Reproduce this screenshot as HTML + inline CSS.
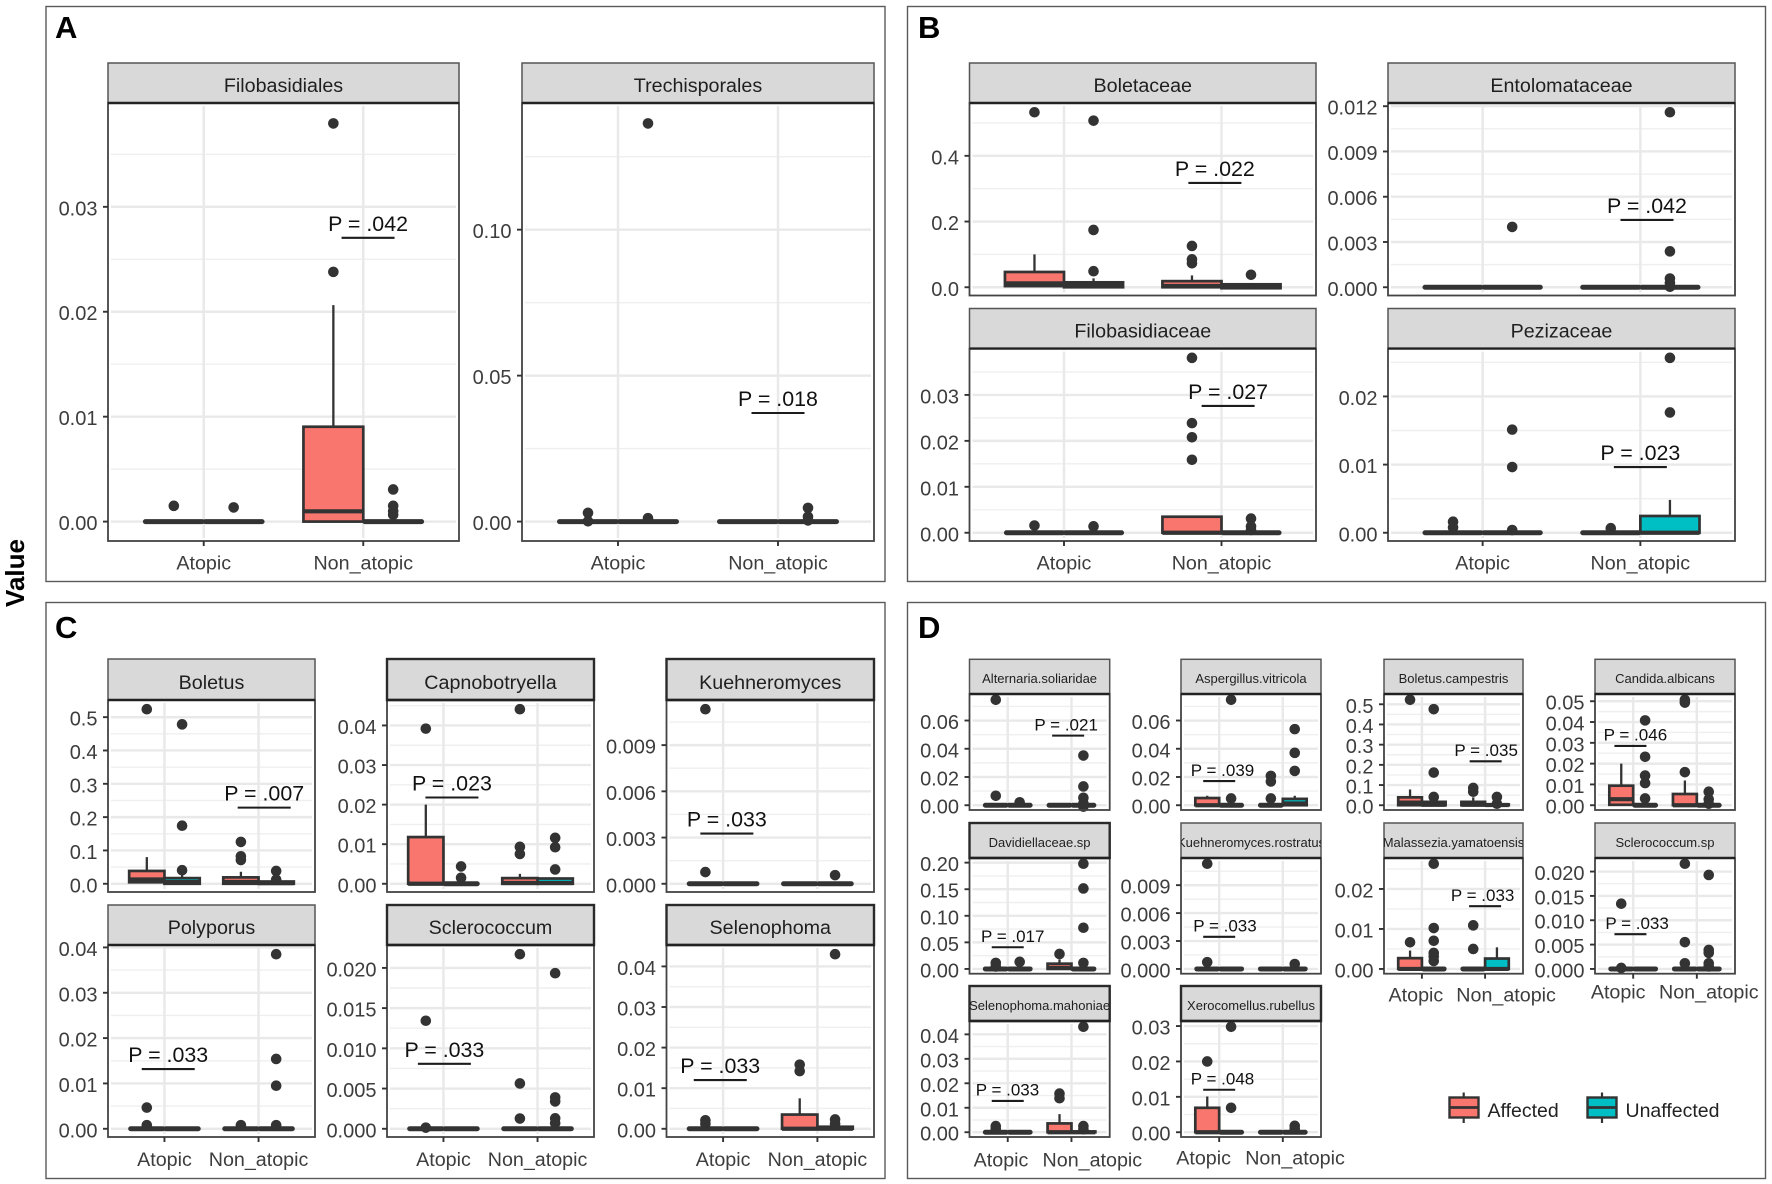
<!DOCTYPE html>
<html lang="en">
<head>
<meta charset="utf-8">
<title>Fungal taxa abundance by atopic status</title>
<style>
html,body{margin:0;padding:0;background:#fff;}
svg{display:block;font-family:"Liberation Sans",Arial,sans-serif;}
</style>
</head>
<body>
<svg id="chart" xmlns="http://www.w3.org/2000/svg" width="1772" height="1184" viewBox="0 0 1772 1184">
  <rect x="0" y="0" width="1772" height="1184" fill="#ffffff"/>
  <rect x="46" y="6.5" width="839" height="575" fill="none" stroke="#5a5a5a" stroke-width="1.4"/>
  <rect x="907.5" y="6.5" width="858" height="575" fill="none" stroke="#5a5a5a" stroke-width="1.4"/>
  <rect x="46" y="602.5" width="839" height="576" fill="none" stroke="#5a5a5a" stroke-width="1.4"/>
  <rect x="907.5" y="602.5" width="858" height="576" fill="none" stroke="#5a5a5a" stroke-width="1.4"/>
  <text x="55" y="38" font-size="31" font-weight="700" fill="#000">A</text>
  <text x="918" y="38" font-size="31" font-weight="700" fill="#000">B</text>
  <text x="55" y="638" font-size="31" font-weight="700" fill="#000">C</text>
  <text x="918" y="638" font-size="31" font-weight="700" fill="#000">D</text>
  <text transform="translate(24,573) rotate(-90)" text-anchor="middle" font-size="26" font-weight="700" fill="#000">Value</text>
  <g id="facets"></g>
  <g>
    <g>
      <line x1="1463.7" x2="1463.7" y1="1092.5" y2="1123" stroke="#333" stroke-width="2.2"/>
      <rect x="1449.5" y="1097.5" width="29" height="20" fill="#F8766D" stroke="#333" stroke-width="2.4"/>
      <line x1="1449.5" x2="1478.5" y1="1107.5" y2="1107.5" stroke="#333" stroke-width="2.8"/>
      <text x="1487.5" y="1117" font-size="19.5" fill="#222">Affected</text>
    </g>
    <g>
      <line x1="1602" x2="1602" y1="1092.5" y2="1123" stroke="#333" stroke-width="2.2"/>
      <rect x="1587.5" y="1097.5" width="29" height="20" fill="#00BFC4" stroke="#333" stroke-width="2.4"/>
      <line x1="1587.5" x2="1616.5" y1="1107.5" y2="1107.5" stroke="#333" stroke-width="2.8"/>
      <text x="1625.5" y="1117" font-size="19.5" fill="#222">Unaffected</text>
    </g>
  </g>
</svg>
<script>
/* ---------- chart data ---------- */
const categories = ["Atopic", "Non_atopic"];
const groups = ["Affected", "Unaffected"];
const groupColors = ["#F8766D", "#00BFC4"];

const facetNames = [
  "Filobasidiales", "Trechisporales",
  "Boletaceae", "Entolomataceae", "Filobasidiaceae", "Pezizaceae",
  "Boletus", "Capnobotryella", "Kuehneromyces", "Polyporus", "Sclerococcum", "Selenophoma",
  "Alternaria.soliaridae", "Aspergillus.vitricola", "Boletus.campestris", "Candida.albicans",
  "Davidiellaceae.sp", "Kuehneromyces.rostratus", "Malassezia.yamatoensis", "Sclerococcum.sp",
  "Selenophoma.mahoniae", "Xerocomellus.rubellus"
];

const yTickLabels = [
  ["0.00","0.01","0.02","0.03"], ["0.00","0.05","0.10"],
  ["0.0","0.2","0.4"], ["0.000","0.003","0.006","0.009","0.012"],
  ["0.00","0.01","0.02","0.03"], ["0.00","0.01","0.02"],
  ["0.0","0.1","0.2","0.3","0.4","0.5"], ["0.00","0.01","0.02","0.03","0.04"],
  ["0.000","0.003","0.006","0.009"], ["0.00","0.01","0.02","0.03","0.04"],
  ["0.000","0.005","0.010","0.015","0.020"], ["0.00","0.01","0.02","0.03","0.04"],
  ["0.00","0.02","0.04","0.06"], ["0.00","0.02","0.04","0.06"],
  ["0.0","0.1","0.2","0.3","0.4","0.5"], ["0.00","0.01","0.02","0.03","0.04","0.05"],
  ["0.00","0.05","0.10","0.15","0.20"], ["0.000","0.003","0.006","0.009"],
  ["0.00","0.01","0.02"], ["0.000","0.005","0.010","0.015","0.020"],
  ["0.00","0.01","0.02","0.03","0.04"], ["0.00","0.01","0.02","0.03"]
];

/* per facet, four boxes (Atopic-Affected, Atopic-Unaffected, Non-Affected, Non-Unaffected):
   [q1, median, q3, upper whisker] */
const boxStats = [
  [[0,0,0,0],[0,0,0,0],[0,0.00098,0.00904,0.02063],[0,0,0,0]],
  [[0,0,0,0],[0,0,0,0],[0,0,0,0],[0,0,0,0]],
  [[0.0035,0.012,0.0465,0.1],[0,0.007,0.015,0.027],[0,0.004,0.0186,0.036],[-0.003,0.002,0.009,0.013]],
  [[0,0,0,0],[0,0,0,0],[0,0,0,0],[0,0,0,0]],
  [[0,0,0,0],[0,0,0,0],[0,0,0.00349,0.00349],[0,0,0,0]],
  [[0,0,0,0],[0,0,0,0],[0,0,0,0],[0,0,0.00246,0.00482]],
  [[0.0045,0.013,0.0385,0.08],[0,0.005,0.017,0.029],[0,0.0055,0.0192,0.036],[0,0.002,0.0068,0.0068]],
  [[0,0,0.0118,0.02],[0,0,0,0],[0,0.0002,0.00143,0.0025],[0,0.0002,0.00133,0.00133]],
  [[0,0,0,0],[0,0,0,0],[0,0,0,0],[0,0,0,0]],
  [[0,0,0,0],[0,0,0,0],[0,0,0,0],[0,0,0,0]],
  [[0,0,0,0],[0,0,0,0],[0,0,0,0],[0,0,0,0]],
  [[0,0,0,0],[0,0,0,0],[0,0,0.0035,0.0075],[0,0,0.0005,0.0005]],
  [[0,0,0,0],[0,0,0,0],[0,0,0,0],[0,0,0,0]],
  [[0,0,0.0051,0.0067],[0,0,0,0],[0,0,0,0],[0,0.0012,0.0045,0.0067]],
  [[0,0.013,0.039,0.078],[0,0.002,0.0167,0.039],[0,0.002,0.0167,0.039],[0,0.001,0.004,0.004]],
  [[0.0002,0.0029,0.0094,0.02],[0,0,0,0],[0,0,0.0054,0.0119],[0,0,0,0]],
  [[0,0,0,0],[0,0,0,0],[0,0.002,0.0099,0.018],[0,0,0,0]],
  [[0,0,0,0],[0,0,0,0],[0,0,0,0],[0,0,0,0]],
  [[0,0,0.0027,0.0046],[0,0,0,0],[0,0,0,0],[0,0,0.0026,0.0054]],
  [[0,0,0,0],[0,0,0,0],[0,0,0,0],[0,0,0,0]],
  [[0,0,0,0],[0,0,0,0],[0,0,0.0036,0.0074],[0,0,0.0003,0.0003]],
  [[0,0,0.0069,0.0101],[0,0,0,0],[0,0,0,0],[0,0,0,0]]
];

/* per facet, outlier values for the same four boxes */
const outliers = [
  [[0.0015],[0.00135],[0.03795,0.0238],[0.00306,0.0015,0.001,0.00065]],
  [[0.003,0.0001],[0.1364,0.00118],[],[0.0047,0.0017,0.0004]],
  [[0.5326],[0.507,0.1744,0.0488],[0.1256,0.085,0.073],[0.038]],
  [[],[0.004],[],[0.0116,0.00238,0.00058,0.00028,0.00003]],
  [[0.00158],[0.0014],[0.03807,0.02386,0.02078,0.01588],[0.00308,0.0014,0.0006]],
  [[0.00162,0.00078],[0.01513,0.00964,0.0004],[0.00067],[0.02566,0.01765]],
  [[0.5238],[0.4785,0.1742,0.0407],[0.1256,0.0826,0.0713],[0.0385,0.0124]],
  [[0.0392],[0.00438,0.00152],[0.0441,0.00933,0.00752],[0.0116,0.00924,0.00362]],
  [[0.01133,0.00076],[],[],[0.00056]],
  [[0.00467,0.0008],[],[0.0008],[0.0385,0.0154,0.0095,0.0008]],
  [[0.01343,0.00014],[],[0.0217,0.00563,0.00127],[0.01934,0.0039,0.0034,0.0013,0.0007]],
  [[0.0021,0.0012],[],[0.0158,0.0142],[0.043,0.0023,0.0012]],
  [[0.0747,0.0067],[0.0021],[],[0.0352,0.0133,0.0053,0.0013,-0.001]],
  [[],[0.0747,0.0048],[0.0208,0.0168,0.0048],[0.0539,0.0371,0.0243]],
  [[0.5223],[0.4758,0.1617,0.0409],[0.0855,0.0669],[0.0409,0.0074]],
  [[],[0.0408,0.0233,0.01426,0.01065,0.00325],[0.0507,0.0493,0.0159],[0.0065,0.0029,0.0007]],
  [[0.0113,0.0045],[0.0134],[0.0282],[0.1979,0.1514,0.0775,0.0113]],
  [[0.0113,0.00073],[],[],[0.00053]],
  [[0.00667],[0.0263,0.01023,0.00704,0.004,0.0031,0.002],[0.0109,0.005],[]],
  [[0.0134,0.0002],[],[0.0216,0.0055,0.00116],[0.0193,0.0039,0.0033,0.00116,0.0005]],
  [[0.0025,0.0014],[],[0.0158,0.0139],[0.0431,0.0025,0.0012]],
  [[0.02],[0.0298,0.0069],[],[0.0018,0.001]]
];

const pLabels = [
  "P = .042","P = .018","P = .022","P = .042","P = .027","P = .023",
  "P = .007","P = .023","P = .033","P = .033","P = .033","P = .033",
  "P = .021","P = .039","P = .035","P = .046","P = .017","P = .033","P = .033","P = .033","P = .033","P = .048"
];
/* bracket centre, in category units (1 = Atopic, 2 = Non_atopic) */
const bracketCat = [
  2.03,2.0,1.958,2.042,2.042,2.0,
  2.06,1.09,1.04,1.04,1.01,0.97,
  1.948,1.0,2.009,0.957,1.0,1.0,2.0,0.957,1.0,1.0
];
/* label centre, in category units */
const pLabelCat = [
  2.03,2.0,1.958,2.042,2.042,2.0,
  2.06,1.09,1.04,1.04,1.01,0.97,
  1.917,1.052,2.017,1.035,1.078,1.091,1.961,1.061,0.996,1.052
];
/* bracket height, in axis units */
const bracketValue = [
  0.02705,0.0372,0.3174,0.00446,0.0276,0.00964,
  0.2285,0.0218,0.00326,0.01317,0.00808,0.012,
  0.0493,0.0171,0.2175,0.0285,0.0408,0.00345,0.0157,0.00713,0.0128,0.012
];

/* ---------- layout (page geometry, not data) ---------- */
function frameFor(i) {
  const big = {strip: 19.7, p: 21.4, half: 26.5, gap: 7};
  const small = {strip: 13, p: 17, half: 16, gap: 5.3};
  function f(x0, x1, top, mid, bot, axis, style, shift, base, heavy) {
    return {x0, x1, top, mid, bot, axis, style, shift: shift || [0, 0], base: base || 28.5, heavy: !!heavy};
  }
  const cC = [[108,315],[387,594],[666.5,874]];
  const cD = [[969.5,1109.7],[1181,1321],[1384,1523],[1595,1735]];
  const rC = [[659,700,892],[905,945,1137]];
  const rD = [[659.3,694,810],[823,858,973.7],[986,1021,1137]];
  const frames = [
    f(108,459,63,103,541,true,big),
    f(522,874,63,103,541,true,big),
    f(969.5,1316,63,103,295.5,false,big),
    f(1388,1735,63,103,295.5,false,big),
    f(969.5,1316,308.5,348.6,541,true,big),
    f(1388,1735,308.5,348.6,541,true,big),
    f(cC[0][0],cC[0][1],rC[0][0],rC[0][1],rC[0][2],false,big),
    f(cC[1][0],cC[1][1],rC[0][0],rC[0][1],rC[0][2],false,big,null,null,true),
    f(cC[2][0],cC[2][1],rC[0][0],rC[0][1],rC[0][2],false,big,null,null,true),
    f(cC[0][0],cC[0][1],rC[1][0],rC[1][1],rC[1][2],true,big,null,28.8),
    f(cC[1][0],cC[1][1],rC[1][0],rC[1][1],rC[1][2],true,big,null,28.8,true),
    f(cC[2][0],cC[2][1],rC[1][0],rC[1][1],rC[1][2],true,big,null,28.8,true),
    f(cD[0][0],cD[0][1],rD[0][0],rD[0][1],rD[0][2],false,small),
    f(cD[1][0],cD[1][1],rD[0][0],rD[0][1],rD[0][2],false,small),
    f(cD[2][0],cD[2][1],rD[0][0],rD[0][1],rD[0][2],false,small),
    f(cD[3][0],cD[3][1],rD[0][0],rD[0][1],rD[0][2],false,small),
    f(cD[0][0],cD[0][1],rD[1][0],rD[1][1],rD[1][2],false,small,null,null,true),
    f(cD[1][0],cD[1][1],rD[1][0],rD[1][1],rD[1][2],false,small),
    f(cD[2][0],cD[2][1],rD[1][0],rD[1][1],rD[1][2],true,small,[-6,21],28),
    f(cD[3][0],cD[3][1],rD[1][0],rD[1][1],rD[1][2],true,small,[-15,12],25),
    f(cD[0][0],cD[0][1],rD[2][0],rD[2][1],rD[2][2],true,small,[-6.7,20.9],29.5,true),
    f(cD[1][0],cD[1][1],rD[2][0],rD[2][1],rD[2][2],true,small,[-15.6,12.2],27.6,true)
  ];
  return frames[i];
}

/* ---------- drawing ---------- */
const NS = "http://www.w3.org/2000/svg";
const DARK = "#333333";
function mk(parent, tag, attrs, text) {
  const el = document.createElementNS(NS, tag);
  for (const k in attrs) el.setAttribute(k, attrs[k]);
  if (text !== undefined) el.textContent = text;
  parent.appendChild(el);
  return el;
}
function slug(s) {
  return s.toLowerCase().replace(/[^a-z0-9]+/g, "-");
}

const root = document.getElementById("facets");

facetNames.forEach(function (name, i) {
  const fr = frameFor(i);
  const stats = boxStats[i];
  const outs = outliers[i];
  const ticks = yTickLabels[i];
  const id = slug(name);

  /* axis functions: ggplot-style expansion */
  const all = [];
  stats.forEach(function (b) { all.push(b[0], b[1], b[2], b[3]); });
  outs.forEach(function (o) { o.forEach(function (v) { all.push(v); }); });
  const lo = Math.min(0, Math.min.apply(null, all.map(function (v) { return Math.max(v, 0); })));
  const hi = Math.max.apply(null, all);
  const pad = (hi - lo) * 0.05;
  const dMin = lo - pad, dMax = hi + pad;
  const yScale = function (v) {
    return 0.5 + fr.bot - (v - dMin) / (dMax - dMin) * (fr.bot - fr.mid);
  };
  const unit = (fr.x1 - fr.x0) / 2.2;
  const xScale = function (c) {
    return fr.x0 + (0.6 + (c - 1)) * unit;
  };

  const g = mk(root, "g", {});
  
  

  /* panel + grid */
  const panelBg = mk(g, "rect", {x: fr.x0, y: fr.mid, width: fr.x1 - fr.x0, height: fr.bot - fr.mid, fill: "#fff"});
  
  

  const grid = mk(g, "g", {});
  
  
  const gx0 = fr.x0 + 3, gx1 = fr.x1 - 3, gy0 = fr.mid + 3, gy1 = fr.bot - 3;
  const step = Number(ticks[1]) - Number(ticks[0]);
  for (let k = -1; k < ticks.length; k++) {
    const mv = Number(ticks[0]) + (k + 0.5) * step;
    const my = yScale(mv);
    if (my > gy0 && my < gy1) {
      const minor = mk(grid, "line", {x1: gx0, x2: gx1, y1: my, y2: my, stroke: "#efefef", "stroke-width": 1.4});
      
      
    }
  }
  ticks.forEach(function (t) {
    const ty = yScale(Number(t));
    const major = mk(grid, "line", {x1: gx0, x2: gx1, y1: ty, y2: ty, stroke: "#e9e9e9", "stroke-width": 2.4});
    
    
  });
  categories.forEach(function (c, ci) {
    const vx = xScale(ci + 1);
    const vert = mk(grid, "line", {x1: vx, x2: vx, y1: gy0, y2: gy1, stroke: "#e9e9e9", "stroke-width": 2.4});
    
    
  });

  /* boxes */
  stats.forEach(function (b, bi) {
    const cat = bi < 2 ? 1 : 2;
    const grp = bi % 2;
    const cx = xScale(cat) + (grp === 0 ? -1 : 1) * 0.1875 * unit;
    const w = 0.375 * unit;
    const box = mk(g, "g", {});
    
    

    if (b[3] > b[2]) {
      const wh = mk(box, "line", {x1: cx, x2: cx, y1: yScale(b[2]), y2: yScale(b[3]), stroke: DARK, "stroke-width": 2.3});
      
      
    }
    const flat = b[2] === b[0];
    if (!flat) {
      const body = mk(box, "rect", {
        x: cx - w / 2, y: yScale(b[2]), width: w, height: yScale(b[0]) - yScale(b[2]),
        fill: groupColors[grp], stroke: DARK, "stroke-width": 2.7
      });
      
      
    }
    const med = mk(box, "line", {
      x1: cx - w / 2 + (flat ? 1.5 : 0), x2: cx + w / 2 - (flat ? 1.5 : 0),
      y1: yScale(b[1]), y2: yScale(b[1]),
      stroke: DARK, "stroke-width": flat ? 5 : 4.2, "stroke-linecap": flat ? "round" : "butt"
    });
    
    

    outs[bi].forEach(function (v) {
      const pt = mk(box, "circle", {cx: cx, cy: yScale(v), r: 5.3, fill: DARK});
      
      
    });
  });

  /* significance bracket */
  const by = yScale(bracketValue[i]);
  const bx = xScale(bracketCat[i]);
  const br = mk(g, "line", {x1: bx - fr.style.half, x2: bx + fr.style.half, y1: by, y2: by, stroke: "#1c1c1c", "stroke-width": 2.1});
  
  
  const pt = mk(g, "text", {
    x: xScale(pLabelCat[i]), y: by - fr.style.gap, "text-anchor": "middle",
    "font-size": fr.style.p, fill: "#111"
  }, pLabels[i]);
  
  

  /* panel border */
  const border = mk(g, "rect", {x: fr.x0, y: fr.mid, width: fr.x1 - fr.x0, height: fr.bot - fr.mid, fill: "none", stroke: "#444", "stroke-width": 1.8});
  
  

  /* strip */
  const clipId = "clip-" + id;
  const clip = mk(g, "clipPath", {id: clipId});
  mk(clip, "rect", {x: fr.x0, y: fr.top, width: fr.x1 - fr.x0, height: fr.mid - fr.top});
  const strip = mk(g, "rect", {
    x: fr.x0, y: fr.top, width: fr.x1 - fr.x0, height: fr.mid - fr.top,
    fill: "#d9d9d9", stroke: fr.heavy ? "#2a2a2a" : "#555", "stroke-width": fr.heavy ? 2.4 : 1.5
  });
  
  
  const stripLine = mk(g, "line", {x1: fr.x0, x2: fr.x1, y1: fr.mid, y2: fr.mid, stroke: "#222", "stroke-width": 2.4});
  
  
  const title = mk(g, "text", {
    x: (fr.x0 + fr.x1) / 2, y: fr.mid - 11, "text-anchor": "middle",
    "font-size": fr.style.strip, fill: "#1f1f1f", "clip-path": "url(#" + clipId + ")"
  }, name);
  
  

  /* y axis */
  ticks.forEach(function (t) {
    const ty = yScale(Number(t));
    const tk = mk(g, "line", {x1: fr.x0 - 5, x2: fr.x0, y1: ty, y2: ty, stroke: DARK, "stroke-width": 1.9});
    
    
    const lb = mk(g, "text", {x: fr.x0 - 10.5, y: ty + 8.5, "text-anchor": "end", "font-size": 20, fill: "#3d3d3d"}, t);
    
    
  });

  /* x axis */
  if (fr.axis) {
    categories.forEach(function (c, ci) {
      const tx = xScale(ci + 1);
      const tk = mk(g, "line", {x1: tx, x2: tx, y1: fr.bot, y2: fr.bot + 5, stroke: DARK, "stroke-width": 1.9});
      
      
      const lb = mk(g, "text", {x: tx + fr.shift[ci], y: fr.bot + fr.base, "text-anchor": "middle", "font-size": 19.7, fill: "#3d3d3d"}, c);
      
      
    });
  }
});
</script>
</body>
</html>
